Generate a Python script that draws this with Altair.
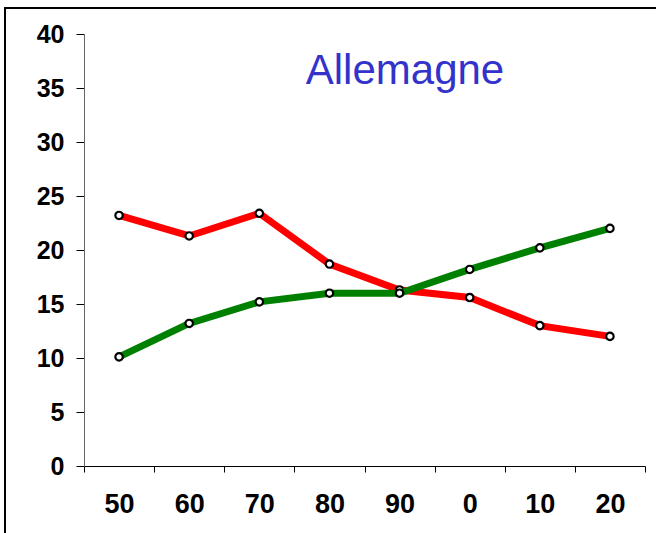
import altair as alt
import pandas as pd

decades = ["50", "60", "70", "80", "90", "0", "10", "20"]
red_values = [23.2, 21.3, 23.4, 18.7, 16.3, 15.6, 13.0, 12.0]
green_values = [10.1, 13.2, 15.2, 16.0, 16.0, 18.2, 20.2, 22.0]

df = pd.DataFrame({
    "decade": decades * 2,
    "value": red_values + green_values,
    "series": ["red"] * len(decades) + ["green"] * len(decades),
    "order": list(range(len(decades))) * 2,
})

FONT = "Liberation Sans Narrow, Liberation Sans, Arial"

x = alt.X("decade:N", sort=decades, title=None,
          scale=alt.Scale(paddingInner=0, paddingOuter=0),
          axis=alt.Axis(labelAngle=0, tickBand="extent", labelFont=FONT,
                        labelFontSize=27, labelFontWeight="bold", labelColor="black",
                        labelPadding=19, tickSize=6, tickColor="black",
                        domainColor="black", domainWidth=1.2, tickWidth=1, zindex=1))
y = alt.Y("value:Q", title=None,
          scale=alt.Scale(domain=[0, 40], nice=False),
          axis=alt.Axis(values=list(range(0, 41, 5)), labelFont=FONT,
                        labelFontSize=25, labelFontWeight="bold", labelColor="black",
                        labelPadding=12, tickSize=8, tickColor="black",
                        domainColor="#666666", grid=False, zindex=1))

color = alt.Color("series:N", scale=alt.Scale(domain=["red", "green"],
                                              range=["#FF0000", "#008000"]), legend=None)

base = alt.Chart(df)

frame = base.mark_rect(fill="white", stroke="black", strokeWidth=2).encode(
    x=alt.value(-79), x2=alt.value(600), y=alt.value(-26), y2=alt.value(520)
)

lines_red = base.transform_filter(alt.datum.series == "red").mark_line(strokeWidth=7).encode(
    x=x, y=y, color=color, order="order:Q")
lines_green = base.transform_filter(alt.datum.series == "green").mark_line(strokeWidth=7).encode(
    x=x, y=y, color=color, order="order:Q")
pts_red = base.transform_filter(alt.datum.series == "red").mark_point(
    filled=True, fill="white", stroke="black", strokeWidth=2.2, size=55, opacity=1).encode(x=x, y=y)
pts_green = base.transform_filter(alt.datum.series == "green").mark_point(
    filled=True, fill="white", stroke="black", strokeWidth=2.2, size=55, opacity=1).encode(x=x, y=y)

title = alt.Chart(pd.DataFrame({"t": ["Allemagne"]})).mark_text(
    font="Liberation Sans, Arial", fontSize=42, color="#3333CC", align="center", baseline="middle"
).encode(text="t:N", x=alt.value(321), y=alt.value(37))

chart = alt.layer(frame, lines_red, pts_red, lines_green, pts_green, title).properties(
    width=561, height=432,
    padding={"left": 84, "top": 34, "right": 11, "bottom": 67},
    autosize=alt.AutoSizeParams(type="none"),
).configure_view(stroke=None)

chart.save("out.html", embed_options={"renderer": "svg", "actions": False})
